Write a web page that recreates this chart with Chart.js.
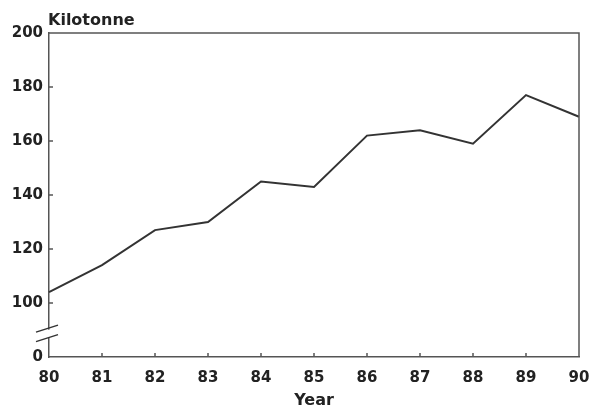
<!DOCTYPE html>
<html>
<head>
<meta charset="utf-8">
<script src="https://cdn.jsdelivr.net/npm/chart.js@4/dist/chart.umd.min.js"></script>
<style>
  html, body { margin: 0; padding: 0; background: #fff; }
  #wrap { width: 598px; height: 410px; }
</style>
</head>
<body>
<div id="wrap"><canvas id="chart" width="598" height="410"></canvas></div>
<script>
const years = ["80", "81", "82", "83", "84", "85", "86", "87", "88", "89", "90"];
const kilotonnes = [104, 114, 127, 130, 145, 143, 162, 164, 159, 177, 169];
const yTicks = [80, 100, 120, 140, 160, 180, 200];   // 80 is shown as "0" (broken axis)

const axisColor = "#555";
const textColor = "#222";
const font = { family: "DejaVu Sans", size: 15, weight: "bold" };

// frame, inward ticks, axis break and the unit label
const framePlugin = {
    id: "frame",
    afterDraw(chart) {
        const ctx = chart.ctx;
        const a = chart.chartArea;
        const xs = chart.scales.x;
        const ys = chart.scales.y;
        ctx.save();
        ctx.strokeStyle = axisColor;
        ctx.lineWidth = 1.5;
        ctx.beginPath();
        ctx.moveTo(a.left, a.top);
        ctx.lineTo(a.right, a.top);
        ctx.lineTo(a.right, a.bottom);
        ctx.stroke();

        ctx.beginPath();
        yTicks.slice(1, -1).forEach(v => {
            const y = ys.getPixelForValue(v);
            ctx.moveTo(a.left, y);
            ctx.lineTo(a.left + 4, y);
        });
        years.slice(1, -1).forEach((_, i) => {
            const x = xs.getPixelForValue(i + 1);
            ctx.moveTo(x, a.bottom);
            ctx.lineTo(x, a.bottom - 4);
        });
        ctx.stroke();

        // axis break
        const y1 = ys.getPixelForValue(90.5);
        const y2 = ys.getPixelForValue(87);
        ctx.fillStyle = "#fff";
        ctx.fillRect(a.left - 2, y1 + 1, 4, y2 - y1 - 2);
        ctx.strokeStyle = "#333";
        ctx.lineWidth = 1.5;
        ctx.beginPath();
        [y1, y2].forEach(y => {
            ctx.moveTo(a.left - 13, y + 3.5);
            ctx.lineTo(a.left + 9, y - 3.5);
        });
        ctx.stroke();

        ctx.fillStyle = textColor;
        ctx.font = "bold 16px 'DejaVu Sans'";
        ctx.textAlign = "left";
        ctx.textBaseline = "alphabetic";
        ctx.fillText("Kilotonne", a.left - 1, 25);
        ctx.restore();
    }
};

new Chart(document.getElementById("chart"), {
    type: "line",
    data: {
        labels: years,
        datasets: [{
            data: kilotonnes,
            borderColor: "#333",
            borderWidth: 2,
            pointRadius: 0,
            tension: 0,
            fill: false
        }]
    },
    options: {
        responsive: false,
        animation: false,
        layout: { padding: { left: 0, right: 19, top: 33, bottom: 0 } },
        plugins: { legend: { display: false }, tooltip: { enabled: false } },
        scales: {
            x: {
                offset: false,
                grid: { display: false, drawTicks: false },
                border: { display: true, color: axisColor, width: 1.5 },
                ticks: { color: textColor, font: font, padding: 12, maxRotation: 0, autoSkip: false },
                title: { display: true, text: "Year", color: textColor, font: { family: "DejaVu Sans", size: 16, weight: "bold" }, padding: { top: 2, bottom: 0 } },
                afterFit(scale) {
                    scale.height = 53;
                    scale.paddingRight = 0;
                    scale.paddingLeft = 0;
                }
            },
            y: {
                min: 80,
                max: 200,
                grid: { display: false, drawTicks: false },
                border: { display: true, color: axisColor, width: 1.5 },
                afterBuildTicks(scale) { scale.ticks = yTicks.map(v => ({ value: v })); },
                ticks: {
                    color: textColor,
                    font: font,
                    padding: 6,
                    callback: v => (v === 80 ? "0" : String(v))
                },
                afterFit(scale) {
                    scale.width = 49;
                    scale.paddingTop = 0;
                    scale.paddingBottom = 0;
                }
            }
        }
    },
    plugins: [framePlugin]
});
</script>
</body>
</html>
